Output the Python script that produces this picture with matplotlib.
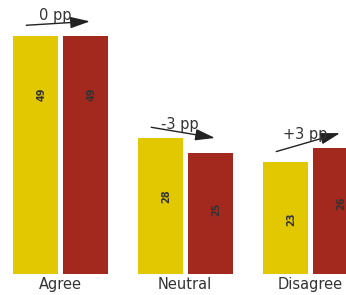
import matplotlib.pyplot as plt
import numpy as np

categories = ['Agree', 'Neutral', 'Disagree']
before = [49, 28, 23]
after = [49, 25, 26]
changes = ['0 pp', '-3 pp', '+3 pp']

# where the small value labels sit inside the bars (data units)
label_y_before = [37, 16, 11.3]
label_y_after = [37, 13.4, 14.6]

yellow = '#E2C800'
red = '#A3291F'

fig = plt.figure(figsize=(3.46, 2.95), dpi=100)
ax = fig.add_axes([0, 21 / 295, 1, 274 / 295])

x = np.arange(len(categories))
w = 0.36
off = 0.2
ax.bar(x - off, before, width=w, color=yellow)
ax.bar(x + off, after, width=w, color=red)

for i in range(len(categories)):
    ax.text(x[i] - off + 0.05, label_y_before[i], str(before[i]), rotation=90,
            ha='center', va='center', fontsize=7, fontweight='bold', color='#333333')
    ax.text(x[i] + off + 0.05, label_y_after[i], str(after[i]), rotation=90,
            ha='center', va='center', fontsize=7, fontweight='bold', color='#333333')
    y0 = before[i] + 2.2
    y1 = after[i] + 3.0
    ax.annotate('', xy=(x[i] + 0.24, y1), xytext=(x[i] - 0.27, y0),
                arrowprops=dict(arrowstyle='-|>,head_length=1.2,head_width=0.35',
                                lw=1, color='#222222', shrinkA=0, shrinkB=0))
    ax.text(x[i] - 0.04, (y0 + y1) / 2 + 1.6, changes[i], ha='center', va='center',
            fontsize=10.5, color='#333333')

ax.set_xlim(-0.48, 2.288)
ax.set_ylim(0, 56.4)
ax.set_xticks(x)
ax.set_xticklabels(categories, fontsize=10.5, color='#333333')
ax.tick_params(axis='x', length=0, pad=2.5)
ax.set_yticks([])
for s in ax.spines.values():
    s.set_visible(False)

fig.savefig('out.png', dpi=100)
